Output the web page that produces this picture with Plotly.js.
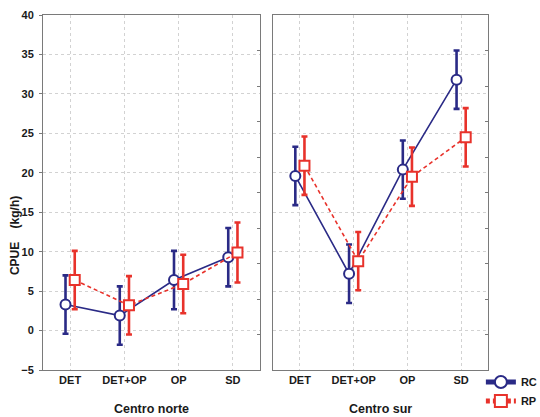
<!DOCTYPE html>
<html>
<head>
<meta charset="utf-8">
<script src="https://cdn.plot.ly/plotly-3.0.1.min.js"></script>
<style>html,body{margin:0;padding:0;background:#fff;}#chart{width:540px;height:417px;}</style>
</head>
<body>
<div id="chart"></div>
<script>
// Data
const categories = ['DET', 'DET+OP', 'OP', 'SD'];
const panels = ['Centro norte', 'Centro sur'];
const seriesNames = ['RC', 'RP'];

const norteRC = [3.3, 1.9, 6.4, 9.3];
const norteRCerr = [3.7, 3.7, 3.7, 3.7];
const norteRP = [6.4, 3.2, 5.9, 9.9];
const norteRPerr = [3.7, 3.7, 3.7, 3.8];

const surRC = [19.6, 7.2, 20.4, 31.8];
const surRCerr = [3.7, 3.7, 3.7, 3.7];
const surRP = [20.9, 8.8, 19.5, 24.5];
const surRPerr = [3.7, 3.7, 3.7, 3.7];

const yTickVals = [-5, 0, 5, 10, 15, 20, 25, 30, 35, 40];

// Styles
const BLUE = '#2a2a86';
const RED = '#e8322b';
const FONT = 'Liberation Sans, Arial, sans-serif';
const TXT = '#1a1a1a';
const OFF = 0.085;
const idx = categories.map((c, i) => i);

function mk(vals, errs, name, color, dash, symbol, xa, ya, offset, showleg) {
  return {
    type: 'scatter', mode: 'lines+markers', name: name,
    x: idx.map(i => i + offset), y: vals,
    xaxis: xa, yaxis: ya, showlegend: showleg, legendgroup: name,
    line: {color: color, width: 1.6, dash: dash},
    marker: {symbol: symbol, size: 10, color: '#ffffff', line: {color: color, width: 2}},
    error_y: {type: 'data', array: errs, visible: true, color: color, thickness: 2.6, width: 3},
    hoverinfo: 'skip'
  };
}

const data = [
  mk(norteRC, norteRCerr, seriesNames[0], BLUE, 'solid', 'circle', 'x', 'y', -OFF, true),
  mk(norteRP, norteRPerr, seriesNames[1], RED, '4px,3px', 'square', 'x', 'y', OFF, true),
  mk(surRC, surRCerr, seriesNames[0], BLUE, 'solid', 'circle', 'x2', 'y2', -OFF, false),
  mk(surRP, surRPerr, seriesNames[1], RED, '4px,3px', 'square', 'x2', 'y2', OFF, false),
  {type: 'scatter', x: [], y: [], xaxis: 'x', yaxis: 'y3', showlegend: false, hoverinfo: 'skip'},
  {type: 'scatter', x: [], y: [], xaxis: 'x2', yaxis: 'y4', showlegend: false, hoverinfo: 'skip'}
];

const xBase = {
  tickmode: 'array', tickvals: idx, ticktext: categories,
  range: [-0.5, 3.5], showgrid: true, gridcolor: '#d2d2d2', griddash: 'dot', gridwidth: 1,
  showline: true, linecolor: '#7a7a7a', linewidth: 1, mirror: true,
  ticks: '', zeroline: false,
  tickfont: {family: FONT, size: 11, color: TXT, weight: 'bold'}
};
const yBase = {
  range: [-5, 40], tickvals: yTickVals,
  showgrid: true, gridcolor: '#d2d2d2', griddash: 'dot', gridwidth: 1,
  showline: true, linecolor: '#7a7a7a', linewidth: 1, mirror: true,
  ticks: 'outside', ticklen: 3, tickcolor: '#7a7a7a', zeroline: false,
  tickfont: {family: FONT, size: 11, color: TXT, weight: 'bold'}
};
const rightTicks = {
  range: [0, 10], dtick: 1, side: 'right', ticks: 'inside', ticklen: 3, tickcolor: '#7a7a7a',
  showticklabels: false, showgrid: false, showline: false, zeroline: false
};

const layout = {
  width: 540, height: 417,
  margin: {l: 43, r: 52, t: 15, b: 47, autoexpand: false},
  paper_bgcolor: '#ffffff', plot_bgcolor: '#ffffff',
  font: {family: FONT, color: TXT},
  xaxis: Object.assign({}, xBase, {domain: [0, 0.4876], anchor: 'y', automargin: false}),
  xaxis2: Object.assign({}, xBase, {domain: [0.5169, 1], anchor: 'y2', automargin: false}),
  yaxis: Object.assign({}, yBase, {anchor: 'x', ticklabelstandoff: 3, automargin: false}),
  yaxis2: Object.assign({}, yBase, {anchor: 'x2', showticklabels: false, ticks: '', automargin: false}),
  yaxis3: Object.assign({}, rightTicks, {overlaying: 'y', anchor: 'x'}),
  yaxis4: Object.assign({}, rightTicks, {overlaying: 'y2', anchor: 'x2'}),
  showlegend: true,
  legend: {
    x: 0.984, xanchor: 'left', y: 0.007, yanchor: 'top',
    font: {family: FONT, size: 11, color: TXT, weight: 'bold'},
    bgcolor: 'rgba(0,0,0,0)', tracegroupgap: 0, itemwidth: 30,
    itemsizing: 'constant'
  },
  annotations: [
    {xref: 'x domain', yref: 'paper', x: 0.5, y: -0.11, yanchor: 'middle', showarrow: false,
     text: panels[0], font: {family: FONT, size: 12.5, color: TXT, weight: 'bold'}},
    {xref: 'x2 domain', yref: 'paper', x: 0.5, y: -0.11, yanchor: 'middle', showarrow: false,
     text: panels[1], font: {family: FONT, size: 12.5, color: TXT, weight: 'bold'}},
    {xref: 'paper', yref: 'paper', x: -0.063, y: 0.38, xanchor: 'center', yanchor: 'middle',
     showarrow: false, textangle: -90,
     text: 'CPUE&nbsp;&nbsp;&nbsp;&nbsp;(kg/h)',
     font: {family: FONT, size: 12, color: TXT, weight: 'bold'}}
  ]
};

Plotly.newPlot('chart', data, layout, {staticPlot: true, displayModeBar: false});
</script>
</body>
</html>
